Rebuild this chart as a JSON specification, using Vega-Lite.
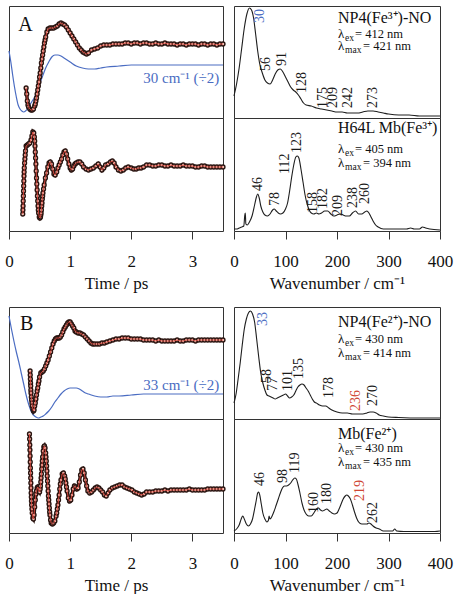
{
"$schema": "https://vega.github.io/schema/vega-lite/v6.json",
"background": "white",
"padding": {"left": 4, "top": 5, "right": 0, "bottom": 0},
"config": {
  "view": {"stroke": "#333333", "strokeWidth": 1},
  "axis": {"labelFont": "Liberation Serif", "titleFont": "Liberation Serif", "labelFontSize": 17, "titleFontSize": 17, "titleFontWeight": "normal", "labelColor": "#111111", "titleColor": "#111111", "tickColor": "#333333", "grid": false, "domain": false, "tickSize": 8, "labelPadding": 14, "titlePadding": 6, "labelOverlap": false, "labelFlush": false},
  "text": {"font": "Liberation Serif", "color": "#111111"}
},
"datasets": {
  "simA": [{"t":0,"v":67},{"t":0.03,"v":56},{"t":0.06,"v":43},{"t":0.09,"v":31},{"t":0.12,"v":21},{"t":0.15,"v":13},{"t":0.18,"v":9},{"t":0.21,"v":7},{"t":0.24,"v":6},{"t":0.27,"v":7},{"t":0.30,"v":9},{"t":0.34,"v":13},{"t":0.38,"v":17},{"t":0.42,"v":21},{"t":0.46,"v":27},{"t":0.50,"v":34},{"t":0.55,"v":42},{"t":0.60,"v":50},{"t":0.65,"v":56},{"t":0.70,"v":61},{"t":0.75,"v":63},{"t":0.80,"v":63},{"t":0.85,"v":62},{"t":0.90,"v":60},{"t":0.95,"v":58},{"t":1.00,"v":56},{"t":1.10,"v":52},{"t":1.20,"v":50},{"t":1.30,"v":49},{"t":1.40,"v":49},{"t":1.50,"v":50},{"t":1.60,"v":51},{"t":1.80,"v":52},{"t":2.00,"v":53},{"t":2.50,"v":53},{"t":3.00,"v":53},{"t":3.50,"v":53}],
  "obsA1": [{"t":0.28,"v":30},{"t":0.29,"v":24},{"t":0.30,"v":17},{"t":0.31,"v":13},{"t":0.32,"v":11},{"t":0.34,"v":9},{"t":0.36,"v":8},{"t":0.38,"v":8},{"t":0.40,"v":9},{"t":0.42,"v":12},{"t":0.43,"v":14},{"t":0.44,"v":17},{"t":0.45,"v":20},{"t":0.46,"v":24},{"t":0.47,"v":28},{"t":0.48,"v":32},{"t":0.49,"v":36},{"t":0.50,"v":41},{"t":0.51,"v":45},{"t":0.52,"v":50},{"t":0.53,"v":55},{"t":0.54,"v":59},{"t":0.55,"v":63},{"t":0.56,"v":67},{"t":0.57,"v":71},{"t":0.58,"v":75},{"t":0.59,"v":78},{"t":0.60,"v":81},{"t":0.62,"v":86},{"t":0.64,"v":89},{"t":0.67,"v":90},{"t":0.70,"v":90},{"t":0.73,"v":90},{"t":0.76,"v":91},{"t":0.79,"v":92},{"t":0.82,"v":94},{"t":0.85,"v":95},{"t":0.88,"v":94},{"t":0.91,"v":93},{"t":0.94,"v":91},{"t":0.97,"v":88},{"t":1.00,"v":85},{"t":1.03,"v":82},{"t":1.06,"v":79},{"t":1.09,"v":76},{"t":1.12,"v":73},{"t":1.15,"v":70},{"t":1.18,"v":68},{"t":1.21,"v":66},{"t":1.24,"v":65},{"t":1.27,"v":64},{"t":1.30,"v":65},{"t":1.35,"v":68},{"t":1.40,"v":69},{"t":1.45,"v":70},{"t":1.50,"v":72},{"t":1.55,"v":73},{"t":1.60,"v":73},{"t":1.65,"v":73},{"t":1.70,"v":74},{"t":1.75,"v":74},{"t":1.80,"v":74},{"t":1.85,"v":74},{"t":1.90,"v":75},{"t":1.95,"v":75},{"t":2.00,"v":74},{"t":2.05,"v":75},{"t":2.10,"v":75},{"t":2.15,"v":74},{"t":2.20,"v":75},{"t":2.25,"v":75},{"t":2.30,"v":74},{"t":2.35,"v":74},{"t":2.40,"v":75},{"t":2.45,"v":74},{"t":2.50,"v":74},{"t":2.55,"v":75},{"t":2.60,"v":74},{"t":2.65,"v":74},{"t":2.70,"v":74},{"t":2.75,"v":73},{"t":2.80,"v":74},{"t":2.85,"v":74},{"t":2.90,"v":73},{"t":2.95,"v":74},{"t":3.00,"v":74},{"t":3.05,"v":74},{"t":3.10,"v":73},{"t":3.15,"v":74},{"t":3.20,"v":74},{"t":3.25,"v":73},{"t":3.30,"v":74},{"t":3.35,"v":74},{"t":3.40,"v":73},{"t":3.45,"v":74},{"t":3.50,"v":74}],
  "obsA2": [{"t":0.225,"v":17},{"t":0.2275,"v":21},{"t":0.23,"v":25},{"t":0.2325,"v":30},{"t":0.235,"v":35},{"t":0.2375,"v":40},{"t":0.24,"v":45},{"t":0.2425,"v":50},{"t":0.245,"v":55},{"t":0.2475,"v":59},{"t":0.25,"v":63},{"t":0.255,"v":68},{"t":0.26,"v":72},{"t":0.265,"v":76},{"t":0.27,"v":80},{"t":0.28,"v":85},{"t":0.30,"v":86},{"t":0.32,"v":87},{"t":0.34,"v":88},{"t":0.36,"v":91},{"t":0.375,"v":95},{"t":0.39,"v":99},{"t":0.405,"v":98},{"t":0.415,"v":94},{"t":0.42,"v":90},{"t":0.425,"v":85},{"t":0.43,"v":79},{"t":0.435,"v":73},{"t":0.44,"v":67},{"t":0.445,"v":60},{"t":0.45,"v":53},{"t":0.455,"v":47},{"t":0.46,"v":41},{"t":0.465,"v":35},{"t":0.47,"v":30},{"t":0.475,"v":25},{"t":0.48,"v":21},{"t":0.485,"v":18},{"t":0.495,"v":14},{"t":0.505,"v":13},{"t":0.515,"v":14},{"t":0.52,"v":16},{"t":0.525,"v":18},{"t":0.53,"v":21},{"t":0.535,"v":25},{"t":0.54,"v":28},{"t":0.545,"v":32},{"t":0.55,"v":35},{"t":0.555,"v":38},{"t":0.565,"v":42},{"t":0.575,"v":46},{"t":0.595,"v":53},{"t":0.615,"v":58},{"t":0.635,"v":64},{"t":0.655,"v":68},{"t":0.675,"v":69},{"t":0.695,"v":67},{"t":0.715,"v":62},{"t":0.735,"v":57},{"t":0.755,"v":56},{"t":0.78,"v":59},{"t":0.80,"v":63},{"t":0.82,"v":66},{"t":0.84,"v":69},{"t":0.86,"v":72},{"t":0.88,"v":76},{"t":0.90,"v":79},{"t":0.92,"v":80},{"t":0.94,"v":77},{"t":0.96,"v":72},{"t":0.98,"v":67},{"t":1.00,"v":63},{"t":1.02,"v":61},{"t":1.04,"v":62},{"t":1.06,"v":65},{"t":1.08,"v":67},{"t":1.10,"v":68},{"t":1.13,"v":69},{"t":1.16,"v":69},{"t":1.19,"v":67},{"t":1.22,"v":64},{"t":1.26,"v":62},{"t":1.30,"v":61},{"t":1.34,"v":62},{"t":1.38,"v":63},{"t":1.42,"v":65},{"t":1.46,"v":67},{"t":1.49,"v":64},{"t":1.52,"v":61},{"t":1.55,"v":63},{"t":1.58,"v":66},{"t":1.62,"v":67},{"t":1.66,"v":69},{"t":1.69,"v":70},{"t":1.72,"v":68},{"t":1.75,"v":64},{"t":1.79,"v":61},{"t":1.83,"v":60},{"t":1.87,"v":61},{"t":1.91,"v":63},{"t":1.95,"v":64},{"t":2.00,"v":63},{"t":2.04,"v":62},{"t":2.08,"v":62},{"t":2.12,"v":63},{"t":2.16,"v":63},{"t":2.20,"v":64},{"t":2.25,"v":66},{"t":2.30,"v":66},{"t":2.35,"v":65},{"t":2.40,"v":65},{"t":2.45,"v":66},{"t":2.50,"v":66},{"t":2.55,"v":65},{"t":2.60,"v":65},{"t":2.65,"v":66},{"t":2.70,"v":65},{"t":2.75,"v":65},{"t":2.80,"v":65},{"t":2.85,"v":66},{"t":2.90,"v":65},{"t":2.95,"v":65},{"t":3.00,"v":65},{"t":3.05,"v":64},{"t":3.10,"v":64},{"t":3.15,"v":65},{"t":3.20,"v":65},{"t":3.25,"v":64},{"t":3.30,"v":64},{"t":3.35,"v":64},{"t":3.40,"v":64},{"t":3.45,"v":64},{"t":3.50,"v":64}],
  "simB": [{"t":0,"v":103},{"t":0.04,"v":90},{"t":0.08,"v":78},{"t":0.12,"v":67},{"t":0.16,"v":57},{"t":0.20,"v":46},{"t":0.24,"v":35},{"t":0.28,"v":24},{"t":0.32,"v":15},{"t":0.36,"v":8},{"t":0.40,"v":4},{"t":0.44,"v":2},{"t":0.48,"v":1},{"t":0.52,"v":2},{"t":0.56,"v":3},{"t":0.60,"v":5},{"t":0.65,"v":8},{"t":0.70,"v":12},{"t":0.75,"v":17},{"t":0.80,"v":21},{"t":0.85,"v":25},{"t":0.90,"v":28},{"t":0.95,"v":30},{"t":1.00,"v":31},{"t":1.05,"v":31},{"t":1.10,"v":31},{"t":1.15,"v":30},{"t":1.20,"v":28},{"t":1.25,"v":26},{"t":1.30,"v":25},{"t":1.40,"v":23},{"t":1.50,"v":22},{"t":1.60,"v":22},{"t":1.70,"v":23},{"t":1.80,"v":23},{"t":2.00,"v":24},{"t":2.20,"v":25},{"t":2.50,"v":25},{"t":3.00,"v":25},{"t":3.50,"v":25}],
  "obsB1": [{"t":0.345,"v":48},{"t":0.3475,"v":44},{"t":0.35,"v":40},{"t":0.3525,"v":36},{"t":0.355,"v":33},{"t":0.3575,"v":29},{"t":0.36,"v":26},{"t":0.365,"v":22},{"t":0.37,"v":19},{"t":0.375,"v":16},{"t":0.38,"v":13},{"t":0.39,"v":10},{"t":0.40,"v":8},{"t":0.41,"v":9},{"t":0.42,"v":13},{"t":0.43,"v":16},{"t":0.44,"v":20},{"t":0.45,"v":24},{"t":0.46,"v":28},{"t":0.47,"v":31},{"t":0.48,"v":35},{"t":0.49,"v":38},{"t":0.50,"v":42},{"t":0.52,"v":46},{"t":0.54,"v":47},{"t":0.56,"v":48},{"t":0.58,"v":50},{"t":0.60,"v":53},{"t":0.62,"v":56},{"t":0.64,"v":59},{"t":0.66,"v":63},{"t":0.68,"v":67},{"t":0.70,"v":71},{"t":0.72,"v":75},{"t":0.74,"v":78},{"t":0.76,"v":80},{"t":0.78,"v":81},{"t":0.80,"v":81},{"t":0.82,"v":81},{"t":0.84,"v":82},{"t":0.86,"v":84},{"t":0.88,"v":87},{"t":0.90,"v":90},{"t":0.92,"v":92},{"t":0.94,"v":94},{"t":0.96,"v":96},{"t":0.98,"v":97},{"t":1.00,"v":97},{"t":1.02,"v":95},{"t":1.04,"v":93},{"t":1.06,"v":91},{"t":1.08,"v":88},{"t":1.10,"v":87},{"t":1.13,"v":86},{"t":1.16,"v":86},{"t":1.19,"v":85},{"t":1.22,"v":84},{"t":1.25,"v":82},{"t":1.28,"v":80},{"t":1.31,"v":78},{"t":1.34,"v":76},{"t":1.37,"v":75},{"t":1.40,"v":75},{"t":1.44,"v":75},{"t":1.48,"v":75},{"t":1.52,"v":76},{"t":1.56,"v":76},{"t":1.60,"v":77},{"t":1.65,"v":78},{"t":1.70,"v":79},{"t":1.75,"v":80},{"t":1.80,"v":80},{"t":1.85,"v":81},{"t":1.90,"v":81},{"t":1.95,"v":81},{"t":2.00,"v":80},{"t":2.05,"v":80},{"t":2.10,"v":80},{"t":2.15,"v":80},{"t":2.20,"v":79},{"t":2.25,"v":79},{"t":2.30,"v":79},{"t":2.35,"v":79},{"t":2.40,"v":78},{"t":2.45,"v":79},{"t":2.50,"v":78},{"t":2.55,"v":78},{"t":2.60,"v":78},{"t":2.65,"v":78},{"t":2.70,"v":78},{"t":2.75,"v":79},{"t":2.80,"v":78},{"t":2.85,"v":78},{"t":2.90,"v":79},{"t":2.95,"v":79},{"t":3.00,"v":79},{"t":3.05,"v":78},{"t":3.10,"v":79},{"t":3.15,"v":79},{"t":3.20,"v":79},{"t":3.25,"v":79},{"t":3.30,"v":79},{"t":3.35,"v":79},{"t":3.40,"v":79},{"t":3.45,"v":79},{"t":3.50,"v":79}],
  "obsB2": [{"t":0.335,"v":99},{"t":0.3375,"v":94},{"t":0.34,"v":88},{"t":0.3425,"v":83},{"t":0.345,"v":77},{"t":0.3475,"v":71},{"t":0.35,"v":65},{"t":0.3525,"v":60},{"t":0.355,"v":55},{"t":0.3575,"v":50},{"t":0.36,"v":45},{"t":0.3625,"v":40},{"t":0.365,"v":36},{"t":0.3675,"v":32},{"t":0.37,"v":28},{"t":0.375,"v":24},{"t":0.38,"v":20},{"t":0.39,"v":15},{"t":0.40,"v":14},{"t":0.41,"v":18},{"t":0.42,"v":26},{"t":0.43,"v":33},{"t":0.44,"v":39},{"t":0.45,"v":42},{"t":0.46,"v":45},{"t":0.47,"v":46},{"t":0.48,"v":45},{"t":0.49,"v":42},{"t":0.50,"v":41},{"t":0.51,"v":44},{"t":0.515,"v":47},{"t":0.52,"v":51},{"t":0.525,"v":55},{"t":0.53,"v":59},{"t":0.535,"v":64},{"t":0.54,"v":68},{"t":0.545,"v":72},{"t":0.55,"v":76},{"t":0.56,"v":82},{"t":0.57,"v":86},{"t":0.58,"v":87},{"t":0.59,"v":85},{"t":0.60,"v":80},{"t":0.605,"v":76},{"t":0.61,"v":72},{"t":0.615,"v":67},{"t":0.62,"v":62},{"t":0.625,"v":57},{"t":0.63,"v":52},{"t":0.635,"v":47},{"t":0.64,"v":42},{"t":0.645,"v":37},{"t":0.65,"v":33},{"t":0.655,"v":29},{"t":0.66,"v":25},{"t":0.665,"v":21},{"t":0.67,"v":18},{"t":0.68,"v":13},{"t":0.69,"v":10},{"t":0.71,"v":9},{"t":0.73,"v":10},{"t":0.75,"v":12},{"t":0.77,"v":17},{"t":0.78,"v":20},{"t":0.79,"v":24},{"t":0.80,"v":28},{"t":0.81,"v":33},{"t":0.82,"v":38},{"t":0.83,"v":44},{"t":0.84,"v":49},{"t":0.85,"v":53},{"t":0.87,"v":59},{"t":0.89,"v":60},{"t":0.91,"v":57},{"t":0.92,"v":54},{"t":0.93,"v":50},{"t":0.94,"v":46},{"t":0.95,"v":42},{"t":0.97,"v":35},{"t":0.99,"v":32},{"t":1.01,"v":33},{"t":1.03,"v":38},{"t":1.05,"v":44},{"t":1.07,"v":47},{"t":1.09,"v":46},{"t":1.11,"v":44},{"t":1.13,"v":45},{"t":1.15,"v":51},{"t":1.17,"v":58},{"t":1.19,"v":63},{"t":1.21,"v":64},{"t":1.23,"v":60},{"t":1.25,"v":53},{"t":1.27,"v":47},{"t":1.29,"v":42},{"t":1.32,"v":40},{"t":1.35,"v":41},{"t":1.38,"v":43},{"t":1.41,"v":45},{"t":1.44,"v":46},{"t":1.47,"v":45},{"t":1.50,"v":43},{"t":1.53,"v":41},{"t":1.56,"v":38},{"t":1.59,"v":37},{"t":1.62,"v":40},{"t":1.65,"v":43},{"t":1.69,"v":45},{"t":1.73,"v":46},{"t":1.77,"v":47},{"t":1.81,"v":48},{"t":1.85,"v":48},{"t":1.89,"v":46},{"t":1.93,"v":45},{"t":1.97,"v":44},{"t":2.01,"v":43},{"t":2.05,"v":41},{"t":2.09,"v":40},{"t":2.13,"v":39},{"t":2.17,"v":38},{"t":2.21,"v":39},{"t":2.25,"v":41},{"t":2.30,"v":41},{"t":2.35,"v":41},{"t":2.40,"v":42},{"t":2.45,"v":42},{"t":2.50,"v":42},{"t":2.55,"v":43},{"t":2.60,"v":42},{"t":2.65,"v":43},{"t":2.70,"v":43},{"t":2.75,"v":43},{"t":2.80,"v":43},{"t":2.85,"v":43},{"t":2.90,"v":43},{"t":2.95,"v":44},{"t":3.00,"v":43},{"t":3.05,"v":43},{"t":3.10,"v":43},{"t":3.15,"v":43},{"t":3.20,"v":43},{"t":3.25,"v":44},{"t":3.30,"v":44},{"t":3.35,"v":44},{"t":3.40,"v":44},{"t":3.45,"v":44},{"t":3.50,"v":44}],
  "specA1": [{"w":0,"v":22},{"w":5,"v":34},{"w":10,"v":50},{"w":15,"v":70},{"w":20,"v":90},{"w":25,"v":104},{"w":30,"v":110},{"w":34,"v":108},{"w":38,"v":100},{"w":42,"v":84},{"w":46,"v":67},{"w":50,"v":54},{"w":55,"v":45},{"w":60,"v":38},{"w":65,"v":35},{"w":70,"v":34},{"w":75,"v":38},{"w":80,"v":44},{"w":85,"v":48},{"w":90,"v":49},{"w":95,"v":46},{"w":100,"v":41},{"w":105,"v":36},{"w":110,"v":31},{"w":115,"v":28},{"w":120,"v":26},{"w":125,"v":23},{"w":130,"v":19},{"w":135,"v":15},{"w":140,"v":13},{"w":150,"v":12},{"w":160,"v":10},{"w":170,"v":9},{"w":180,"v":8},{"w":190,"v":7},{"w":200,"v":6},{"w":210,"v":6},{"w":220,"v":5},{"w":230,"v":5},{"w":240,"v":5},{"w":250,"v":6},{"w":260,"v":7},{"w":270,"v":7},{"w":280,"v":6},{"w":290,"v":5},{"w":300,"v":4},{"w":320,"v":3},{"w":340,"v":3},{"w":360,"v":2},{"w":380,"v":2},{"w":400,"v":2}],
  "specA2": [{"w":0,"v":2},{"w":5,"v":2},{"w":10,"v":3},{"w":15,"v":4},{"w":19,"v":5},{"w":21,"v":16},{"w":22,"v":18},{"w":23,"v":7},{"w":26,"v":6},{"w":30,"v":9},{"w":35,"v":15},{"w":40,"v":26},{"w":43,"v":33},{"w":46,"v":37},{"w":49,"v":33},{"w":52,"v":25},{"w":56,"v":19},{"w":60,"v":16},{"w":65,"v":15},{"w":70,"v":17},{"w":75,"v":21},{"w":78,"v":22},{"w":82,"v":20},{"w":86,"v":18},{"w":90,"v":17},{"w":95,"v":18},{"w":100,"v":22},{"w":104,"v":28},{"w":108,"v":40},{"w":112,"v":54},{"w":116,"v":66},{"w":120,"v":74},{"w":123,"v":75},{"w":126,"v":73},{"w":130,"v":62},{"w":134,"v":49},{"w":138,"v":36},{"w":142,"v":27},{"w":146,"v":21},{"w":150,"v":18},{"w":155,"v":17},{"w":160,"v":18},{"w":165,"v":17},{"w":170,"v":18},{"w":176,"v":20},{"w":182,"v":20},{"w":188,"v":17},{"w":194,"v":15},{"w":200,"v":16},{"w":206,"v":17},{"w":212,"v":16},{"w":218,"v":15},{"w":224,"v":15},{"w":230,"v":18},{"w":236,"v":20},{"w":242,"v":17},{"w":248,"v":17},{"w":254,"v":19},{"w":258,"v":20},{"w":262,"v":18},{"w":266,"v":14},{"w":270,"v":10},{"w":275,"v":6},{"w":280,"v":4},{"w":290,"v":2},{"w":300,"v":2},{"w":320,"v":2},{"w":335,"v":2},{"w":343,"v":3},{"w":350,"v":2},{"w":360,"v":2},{"w":366,"v":4},{"w":372,"v":3},{"w":380,"v":2},{"w":400,"v":1}],
  "specB1": [{"w":0,"v":16},{"w":4,"v":25},{"w":8,"v":40},{"w":12,"v":56},{"w":16,"v":74},{"w":20,"v":90},{"w":24,"v":100},{"w":28,"v":106},{"w":32,"v":108},{"w":36,"v":105},{"w":40,"v":97},{"w":44,"v":80},{"w":48,"v":62},{"w":52,"v":46},{"w":56,"v":36},{"w":60,"v":29},{"w":64,"v":24},{"w":68,"v":23},{"w":72,"v":22},{"w":76,"v":21},{"w":80,"v":20},{"w":84,"v":21},{"w":88,"v":22},{"w":92,"v":23},{"w":96,"v":24},{"w":100,"v":25},{"w":104,"v":23},{"w":108,"v":21},{"w":112,"v":22},{"w":116,"v":24},{"w":120,"v":28},{"w":124,"v":32},{"w":128,"v":34},{"w":132,"v":35},{"w":136,"v":34},{"w":140,"v":31},{"w":144,"v":28},{"w":148,"v":24},{"w":152,"v":20},{"w":156,"v":17},{"w":160,"v":16},{"w":166,"v":14},{"w":172,"v":13},{"w":178,"v":13},{"w":184,"v":11},{"w":190,"v":9},{"w":200,"v":7},{"w":210,"v":6},{"w":220,"v":6},{"w":230,"v":5},{"w":240,"v":5},{"w":250,"v":5},{"w":258,"v":6},{"w":264,"v":7},{"w":270,"v":7},{"w":276,"v":6},{"w":282,"v":4},{"w":290,"v":3},{"w":300,"v":2},{"w":320,"v":1.5},{"w":360,"v":1},{"w":400,"v":1}],
  "specB2": [{"w":0,"v":2},{"w":5,"v":4},{"w":10,"v":8},{"w":14,"v":14},{"w":17,"v":17},{"w":20,"v":14},{"w":24,"v":9},{"w":28,"v":7},{"w":32,"v":9},{"w":36,"v":14},{"w":40,"v":24},{"w":43,"v":32},{"w":46,"v":40},{"w":48,"v":41},{"w":50,"v":38},{"w":53,"v":29},{"w":56,"v":20},{"w":60,"v":14},{"w":64,"v":11},{"w":67,"v":13},{"w":68,"v":17},{"w":70,"v":14},{"w":74,"v":17},{"w":78,"v":22},{"w":82,"v":28},{"w":86,"v":34},{"w":90,"v":40},{"w":94,"v":45},{"w":98,"v":47},{"w":102,"v":47},{"w":106,"v":48},{"w":110,"v":50},{"w":114,"v":53},{"w":118,"v":55},{"w":121,"v":54},{"w":124,"v":49},{"w":128,"v":40},{"w":132,"v":30},{"w":136,"v":23},{"w":140,"v":19},{"w":145,"v":17},{"w":150,"v":17},{"w":155,"v":20},{"w":160,"v":24},{"w":164,"v":25},{"w":168,"v":23},{"w":172,"v":22},{"w":176,"v":23},{"w":180,"v":24},{"w":185,"v":22},{"w":190,"v":20},{"w":195,"v":19},{"w":200,"v":20},{"w":204,"v":24},{"w":208,"v":29},{"w":212,"v":34},{"w":216,"v":37},{"w":219,"v":38},{"w":222,"v":37},{"w":226,"v":34},{"w":230,"v":28},{"w":234,"v":21},{"w":238,"v":15},{"w":242,"v":11},{"w":248,"v":9},{"w":254,"v":9},{"w":258,"v":9},{"w":262,"v":10},{"w":266,"v":9},{"w":270,"v":7},{"w":276,"v":5},{"w":282,"v":4},{"w":290,"v":2},{"w":300,"v":2},{"w":308,"v":2},{"w":312,"v":4},{"w":316,"v":2},{"w":330,"v":1.5},{"w":360,"v":1.5},{"w":390,"v":1.5},{"w":400,"v":2}],
  "lamA1": [{"w":202,"v":84,"sub":"ex","rest":"= 412 nm"},{"w":202,"v":72,"sub":"max","rest":"= 421 nm"}],
  "lamA2": [{"w":202,"v":82,"sub":"ex","rest":"= 405 nm"},{"w":202,"v":68,"sub":"max","rest":"= 394 nm"}],
  "lamB1": [{"w":202,"v":80,"sub":"ex","rest":"= 430 nm"},{"w":202,"v":66,"sub":"max","rest":"= 414 nm"}],
  "lamB2": [{"w":202,"v":85,"sub":"ex","rest":"= 430 nm"},{"w":202,"v":71,"sub":"max","rest":"= 435 nm"}]
},
"concat": [
     {"width": 214, "height": 112,
      "layer": [
        {"data": {"name": "simA"}, "mark": {"type": "line", "color": "#4a6cc2", "strokeWidth": 1.2, "interpolate": "monotone"},
         "encoding": {"x": {"field": "t", "type": "quantitative", "scale": {"domain": [0, 3.5], "nice": false}, "axis": null}, "y": {"field": "v", "type": "quantitative", "scale": {"domain": [0, 112], "nice": false, "zero": false}, "axis": null}}},
        {"data": {"name": "obsA1"}, "mark": {"type": "line", "color": "#2a1410", "strokeWidth": 3.5},
         "encoding": {"x": {"field": "t", "type": "quantitative"}, "y": {"field": "v", "type": "quantitative"}}},
        {"data": {"name": "obsA1"}, "mark": {"type": "point", "shape": "circle", "size": 15, "filled": true, "fill": "#f0c4b8", "stroke": "#2a1410", "strokeWidth": 1.4, "opacity": 1},
         "encoding": {"x": {"field": "t", "type": "quantitative"}, "y": {"field": "v", "type": "quantitative"}}},
        {"data": {"name": "obsA1"}, "mark": {"type": "line", "color": "#d9453b", "strokeWidth": 0.9},
         "encoding": {"x": {"field": "t", "type": "quantitative"}, "y": {"field": "v", "type": "quantitative"}}},
        {"data": {"values": [{"t": 0.15, "v": 93, "label": "A"}]}, "mark": {"type": "text", "fontSize": 20, "align": "left", "baseline": "middle"},
         "encoding": {"x": {"field": "t", "type": "quantitative"}, "y": {"field": "v", "type": "quantitative"}, "text": {"field": "label"}}},
        {"data": {"values": [{"t": 3.44, "v": 40, "label": "30 cm⁻¹ (÷2)"}]}, "mark": {"type": "text", "fontSize": 15, "align": "right", "baseline": "middle", "color": "#4a6cc2"},
         "encoding": {"x": {"field": "t", "type": "quantitative"}, "y": {"field": "v", "type": "quantitative"}, "text": {"field": "label"}}}
      ]},
     {"width": 206, "height": 112,
      "layer": [
        {"data": {"name": "specA1"}, "mark": {"type": "line", "color": "#1e1e1e", "strokeWidth": 1.1, "interpolate": "monotone"},
         "encoding": {"x": {"field": "w", "type": "quantitative", "scale": {"domain": [0, 400], "nice": false}, "axis": null}, "y": {"field": "v", "type": "quantitative", "scale": {"domain": [0, 112], "nice": false, "zero": false}, "axis": null}}},
        {"data": {"values": [{"w": 51, "v": 95, "label": "30", "kind": "coherent"}, {"w": 63, "v": 47, "label": "56", "kind": "peak"}, {"w": 92.5, "v": 52, "label": "91", "kind": "peak"}, {"w": 132, "v": 25, "label": "128", "kind": "peak"}, {"w": 173, "v": 10, "label": "175", "kind": "peak"}, {"w": 193, "v": 10, "label": "209", "kind": "peak"}, {"w": 222, "v": 10, "label": "242", "kind": "peak"}, {"w": 270, "v": 10, "label": "273", "kind": "peak"}]},
         "mark": {"type": "text", "angle": 270, "align": "left", "baseline": "middle", "fontSize": 14},
         "encoding": {"x": {"field": "w", "type": "quantitative"}, "y": {"field": "v", "type": "quantitative"}, "text": {"field": "label"}, "color": {"field": "kind", "type": "nominal", "scale": {"domain": ["peak", "coherent", "marked"], "range": ["#1a1a1a", "#4a6cc2", "#cf4532"]}, "legend": null}}},
        {"data": {"values": [{"w": 202, "v": 100, "label": "NP4(Fe³⁺)-NO"}]}, "mark": {"type": "text", "align": "left", "baseline": "middle", "fontSize": 16},
         "encoding": {"x": {"field": "w", "type": "quantitative"}, "y": {"field": "v", "type": "quantitative"}, "text": {"field": "label"}}},
        {"data": {"name": "lamA1"}, "mark": {"type": "text", "align": "left", "baseline": "middle", "fontSize": 13}, "encoding": {"x": {"field": "w", "type": "quantitative"}, "y": {"field": "v", "type": "quantitative"}, "text": {"value": "λ"}}},
        {"data": {"name": "lamA1"}, "mark": {"type": "text", "align": "left", "baseline": "middle", "fontSize": 9.5, "dx": 7, "dy": 3.5}, "encoding": {"x": {"field": "w", "type": "quantitative"}, "y": {"field": "v", "type": "quantitative"}, "text": {"field": "sub"}}},
        {"data": {"name": "lamA1"}, "transform": [{"filter": "datum.sub === 'ex'"}], "mark": {"type": "text", "align": "left", "baseline": "middle", "fontSize": 12.5, "dx": 17}, "encoding": {"x": {"field": "w", "type": "quantitative"}, "y": {"field": "v", "type": "quantitative"}, "text": {"field": "rest"}}},
        {"data": {"name": "lamA1"}, "transform": [{"filter": "datum.sub === 'max'"}], "mark": {"type": "text", "align": "left", "baseline": "middle", "fontSize": 12.5, "dx": 25}, "encoding": {"x": {"field": "w", "type": "quantitative"}, "y": {"field": "v", "type": "quantitative"}, "text": {"field": "rest"}}}
      ]},
     {"width": 214, "height": 113,
      "layer": [
        {"data": {"name": "obsA2"}, "mark": {"type": "line", "color": "#2a1410", "strokeWidth": 3.5},
         "encoding": {"x": {"field": "t", "type": "quantitative", "scale": {"domain": [0, 3.5], "nice": false}, "axis": {"values": [0, 0.5, 1, 1.5, 2, 2.5, 3, 3.5], "labelExpr": "datum.value % 1 === 0 ? format(datum.value, 'd') : ''", "title": "Time / ps"}}, "y": {"field": "v", "type": "quantitative", "scale": {"domain": [0, 113], "nice": false, "zero": false}, "axis": null}}},
        {"data": {"name": "obsA2"}, "mark": {"type": "point", "shape": "circle", "size": 15, "filled": true, "fill": "#f0c4b8", "stroke": "#2a1410", "strokeWidth": 1.4, "opacity": 1},
         "encoding": {"x": {"field": "t", "type": "quantitative"}, "y": {"field": "v", "type": "quantitative"}}},
        {"data": {"name": "obsA2"}, "mark": {"type": "line", "color": "#d9453b", "strokeWidth": 0.9},
         "encoding": {"x": {"field": "t", "type": "quantitative"}, "y": {"field": "v", "type": "quantitative"}}}
      ]},
     {"width": 206, "height": 113,
      "layer": [
        {"data": {"name": "specA2"}, "mark": {"type": "line", "color": "#1e1e1e", "strokeWidth": 1.1, "interpolate": "monotone"},
         "encoding": {"x": {"field": "w", "type": "quantitative", "scale": {"domain": [0, 400], "nice": false}, "axis": {"values": [0, 50, 100, 150, 200, 250, 300, 350, 400], "labelExpr": "datum.value % 100 === 0 ? datum.label : ''", "title": "Wavenumber / cm⁻¹"}}, "y": {"field": "v", "type": "quantitative", "scale": {"domain": [0, 113], "nice": false, "zero": false}, "axis": null}}},
        {"data": {"values": [{"w": 47, "v": 40, "label": "46", "kind": "peak"}, {"w": 80, "v": 25, "label": "78", "kind": "peak"}, {"w": 99, "v": 57, "label": "112", "kind": "peak"}, {"w": 122, "v": 78, "label": "123", "kind": "peak"}, {"w": 154, "v": 18, "label": "158", "kind": "peak"}, {"w": 173, "v": 22, "label": "182", "kind": "peak"}, {"w": 202.5, "v": 15, "label": "209", "kind": "peak"}, {"w": 231.6, "v": 23, "label": "238", "kind": "peak"}, {"w": 254, "v": 27, "label": "260", "kind": "peak"}]},
         "mark": {"type": "text", "angle": 270, "align": "left", "baseline": "middle", "fontSize": 14},
         "encoding": {"x": {"field": "w", "type": "quantitative"}, "y": {"field": "v", "type": "quantitative"}, "text": {"field": "label"}, "color": {"field": "kind", "type": "nominal", "scale": {"domain": ["peak", "coherent", "marked"], "range": ["#1a1a1a", "#4a6cc2", "#cf4532"]}, "legend": null}}},
        {"data": {"values": [{"w": 202, "v": 103, "label": "H64L Mb(Fe³⁺)"}]}, "mark": {"type": "text", "align": "left", "baseline": "middle", "fontSize": 16},
         "encoding": {"x": {"field": "w", "type": "quantitative"}, "y": {"field": "v", "type": "quantitative"}, "text": {"field": "label"}}},
        {"data": {"name": "lamA2"}, "mark": {"type": "text", "align": "left", "baseline": "middle", "fontSize": 13}, "encoding": {"x": {"field": "w", "type": "quantitative"}, "y": {"field": "v", "type": "quantitative"}, "text": {"value": "λ"}}},
        {"data": {"name": "lamA2"}, "mark": {"type": "text", "align": "left", "baseline": "middle", "fontSize": 9.5, "dx": 7, "dy": 3.5}, "encoding": {"x": {"field": "w", "type": "quantitative"}, "y": {"field": "v", "type": "quantitative"}, "text": {"field": "sub"}}},
        {"data": {"name": "lamA2"}, "transform": [{"filter": "datum.sub === 'ex'"}], "mark": {"type": "text", "align": "left", "baseline": "middle", "fontSize": 12.5, "dx": 17}, "encoding": {"x": {"field": "w", "type": "quantitative"}, "y": {"field": "v", "type": "quantitative"}, "text": {"field": "rest"}}},
        {"data": {"name": "lamA2"}, "transform": [{"filter": "datum.sub === 'max'"}], "mark": {"type": "text", "align": "left", "baseline": "middle", "fontSize": 12.5, "dx": 25}, "encoding": {"x": {"field": "w", "type": "quantitative"}, "y": {"field": "v", "type": "quantitative"}, "text": {"field": "rest"}}}
      ]},
     {"width": 214, "height": 76, "view": {"stroke": null}, "data": {"values": []}, "mark": {"type": "point", "opacity": 0}, "encoding": {}},
     {"width": 206, "height": 76, "view": {"stroke": null}, "data": {"values": []}, "mark": {"type": "point", "opacity": 0}, "encoding": {}},
     {"width": 214, "height": 112,
      "layer": [
        {"data": {"name": "simB"}, "mark": {"type": "line", "color": "#4a6cc2", "strokeWidth": 1.2, "interpolate": "monotone"},
         "encoding": {"x": {"field": "t", "type": "quantitative", "scale": {"domain": [0, 3.5], "nice": false}, "axis": null}, "y": {"field": "v", "type": "quantitative", "scale": {"domain": [0, 112], "nice": false, "zero": false}, "axis": null}}},
        {"data": {"name": "obsB1"}, "mark": {"type": "line", "color": "#2a1410", "strokeWidth": 3.5},
         "encoding": {"x": {"field": "t", "type": "quantitative"}, "y": {"field": "v", "type": "quantitative"}}},
        {"data": {"name": "obsB1"}, "mark": {"type": "point", "shape": "circle", "size": 15, "filled": true, "fill": "#f0c4b8", "stroke": "#2a1410", "strokeWidth": 1.4, "opacity": 1},
         "encoding": {"x": {"field": "t", "type": "quantitative"}, "y": {"field": "v", "type": "quantitative"}}},
        {"data": {"name": "obsB1"}, "mark": {"type": "line", "color": "#d9453b", "strokeWidth": 0.9},
         "encoding": {"x": {"field": "t", "type": "quantitative"}, "y": {"field": "v", "type": "quantitative"}}},
        {"data": {"values": [{"t": 0.18, "v": 95, "label": "B"}]}, "mark": {"type": "text", "fontSize": 20, "align": "left", "baseline": "middle"},
         "encoding": {"x": {"field": "t", "type": "quantitative"}, "y": {"field": "v", "type": "quantitative"}, "text": {"field": "label"}}},
        {"data": {"values": [{"t": 3.44, "v": 34, "label": "33 cm⁻¹ (÷2)"}]}, "mark": {"type": "text", "fontSize": 15, "align": "right", "baseline": "middle", "color": "#4a6cc2"},
         "encoding": {"x": {"field": "t", "type": "quantitative"}, "y": {"field": "v", "type": "quantitative"}, "text": {"field": "label"}}}
      ]},
     {"width": 206, "height": 112,
      "layer": [
        {"data": {"name": "specB1"}, "mark": {"type": "line", "color": "#1e1e1e", "strokeWidth": 1.1, "interpolate": "monotone"},
         "encoding": {"x": {"field": "w", "type": "quantitative", "scale": {"domain": [0, 400], "nice": false}, "axis": null}, "y": {"field": "v", "type": "quantitative", "scale": {"domain": [0, 112], "nice": false, "zero": false}, "axis": null}}},
        {"data": {"values": [{"w": 57, "v": 93, "label": "33", "kind": "coherent"}, {"w": 63.6, "v": 36, "label": "58", "kind": "peak"}, {"w": 76, "v": 28, "label": "77", "kind": "peak"}, {"w": 105.5, "v": 28, "label": "101", "kind": "peak"}, {"w": 127, "v": 40, "label": "135", "kind": "peak"}, {"w": 185, "v": 21, "label": "178", "kind": "peak"}, {"w": 237, "v": 8, "label": "236", "kind": "marked"}, {"w": 269, "v": 13, "label": "270", "kind": "peak"}]},
         "mark": {"type": "text", "angle": 270, "align": "left", "baseline": "middle", "fontSize": 14},
         "encoding": {"x": {"field": "w", "type": "quantitative"}, "y": {"field": "v", "type": "quantitative"}, "text": {"field": "label"}, "color": {"field": "kind", "type": "nominal", "scale": {"domain": ["peak", "coherent", "marked"], "range": ["#1a1a1a", "#4a6cc2", "#cf4532"]}, "legend": null}}},
        {"data": {"values": [{"w": 202, "v": 97, "label": "NP4(Fe²⁺)-NO"}]}, "mark": {"type": "text", "align": "left", "baseline": "middle", "fontSize": 16},
         "encoding": {"x": {"field": "w", "type": "quantitative"}, "y": {"field": "v", "type": "quantitative"}, "text": {"field": "label"}}},
        {"data": {"name": "lamB1"}, "mark": {"type": "text", "align": "left", "baseline": "middle", "fontSize": 13}, "encoding": {"x": {"field": "w", "type": "quantitative"}, "y": {"field": "v", "type": "quantitative"}, "text": {"value": "λ"}}},
        {"data": {"name": "lamB1"}, "mark": {"type": "text", "align": "left", "baseline": "middle", "fontSize": 9.5, "dx": 7, "dy": 3.5}, "encoding": {"x": {"field": "w", "type": "quantitative"}, "y": {"field": "v", "type": "quantitative"}, "text": {"field": "sub"}}},
        {"data": {"name": "lamB1"}, "transform": [{"filter": "datum.sub === 'ex'"}], "mark": {"type": "text", "align": "left", "baseline": "middle", "fontSize": 12.5, "dx": 17}, "encoding": {"x": {"field": "w", "type": "quantitative"}, "y": {"field": "v", "type": "quantitative"}, "text": {"field": "rest"}}},
        {"data": {"name": "lamB1"}, "transform": [{"filter": "datum.sub === 'max'"}], "mark": {"type": "text", "align": "left", "baseline": "middle", "fontSize": 12.5, "dx": 25}, "encoding": {"x": {"field": "w", "type": "quantitative"}, "y": {"field": "v", "type": "quantitative"}, "text": {"field": "rest"}}}
      ]},
     {"width": 214, "height": 114,
      "layer": [
        {"data": {"name": "obsB2"}, "mark": {"type": "line", "color": "#2a1410", "strokeWidth": 3.5},
         "encoding": {"x": {"field": "t", "type": "quantitative", "scale": {"domain": [0, 3.5], "nice": false}, "axis": {"values": [0, 0.5, 1, 1.5, 2, 2.5, 3, 3.5], "labelExpr": "datum.value % 1 === 0 ? format(datum.value, 'd') : ''", "title": "Time / ps"}}, "y": {"field": "v", "type": "quantitative", "scale": {"domain": [0, 114], "nice": false, "zero": false}, "axis": null}}},
        {"data": {"name": "obsB2"}, "mark": {"type": "point", "shape": "circle", "size": 15, "filled": true, "fill": "#f0c4b8", "stroke": "#2a1410", "strokeWidth": 1.4, "opacity": 1},
         "encoding": {"x": {"field": "t", "type": "quantitative"}, "y": {"field": "v", "type": "quantitative"}}},
        {"data": {"name": "obsB2"}, "mark": {"type": "line", "color": "#d9453b", "strokeWidth": 0.9},
         "encoding": {"x": {"field": "t", "type": "quantitative"}, "y": {"field": "v", "type": "quantitative"}}}
      ]},
     {"width": 206, "height": 114,
      "layer": [
        {"data": {"name": "specB2"}, "mark": {"type": "line", "color": "#1e1e1e", "strokeWidth": 1.1, "interpolate": "monotone"},
         "encoding": {"x": {"field": "w", "type": "quantitative", "scale": {"domain": [0, 400], "nice": false}, "axis": {"values": [0, 50, 100, 150, 200, 250, 300, 350, 400], "labelExpr": "datum.value % 100 === 0 ? datum.label : ''", "title": "Wavenumber / cm⁻¹"}}, "y": {"field": "v", "type": "quantitative", "scale": {"domain": [0, 114], "nice": false, "zero": false}, "axis": null}}},
        {"data": {"values": [{"w": 50.5, "v": 47, "label": "46", "kind": "peak"}, {"w": 95.7, "v": 50, "label": "98", "kind": "peak"}, {"w": 118, "v": 60, "label": "119", "kind": "peak"}, {"w": 156, "v": 20, "label": "160", "kind": "peak"}, {"w": 180, "v": 29, "label": "180", "kind": "peak"}, {"w": 244.6, "v": 32, "label": "219", "kind": "marked"}, {"w": 270, "v": 10, "label": "262", "kind": "peak"}]},
         "mark": {"type": "text", "angle": 270, "align": "left", "baseline": "middle", "fontSize": 14},
         "encoding": {"x": {"field": "w", "type": "quantitative"}, "y": {"field": "v", "type": "quantitative"}, "text": {"field": "label"}, "color": {"field": "kind", "type": "nominal", "scale": {"domain": ["peak", "coherent", "marked"], "range": ["#1a1a1a", "#4a6cc2", "#cf4532"]}, "legend": null}}},
        {"data": {"values": [{"w": 202, "v": 99, "label": "Mb(Fe²⁺)"}]}, "mark": {"type": "text", "align": "left", "baseline": "middle", "fontSize": 16},
         "encoding": {"x": {"field": "w", "type": "quantitative"}, "y": {"field": "v", "type": "quantitative"}, "text": {"field": "label"}}},
        {"data": {"name": "lamB2"}, "mark": {"type": "text", "align": "left", "baseline": "middle", "fontSize": 13}, "encoding": {"x": {"field": "w", "type": "quantitative"}, "y": {"field": "v", "type": "quantitative"}, "text": {"value": "λ"}}},
        {"data": {"name": "lamB2"}, "mark": {"type": "text", "align": "left", "baseline": "middle", "fontSize": 9.5, "dx": 7, "dy": 3.5}, "encoding": {"x": {"field": "w", "type": "quantitative"}, "y": {"field": "v", "type": "quantitative"}, "text": {"field": "sub"}}},
        {"data": {"name": "lamB2"}, "transform": [{"filter": "datum.sub === 'ex'"}], "mark": {"type": "text", "align": "left", "baseline": "middle", "fontSize": 12.5, "dx": 17}, "encoding": {"x": {"field": "w", "type": "quantitative"}, "y": {"field": "v", "type": "quantitative"}, "text": {"field": "rest"}}},
        {"data": {"name": "lamB2"}, "transform": [{"filter": "datum.sub === 'max'"}], "mark": {"type": "text", "align": "left", "baseline": "middle", "fontSize": 12.5, "dx": 25}, "encoding": {"x": {"field": "w", "type": "quantitative"}, "y": {"field": "v", "type": "quantitative"}, "text": {"field": "rest"}}}
      ]}
],
"columns": 2,
"spacing": {"row": 0, "column": 11},
"bounds": "flush",
"resolve": {"scale": {"x": "independent", "y": "independent", "color": "shared"}}
}
